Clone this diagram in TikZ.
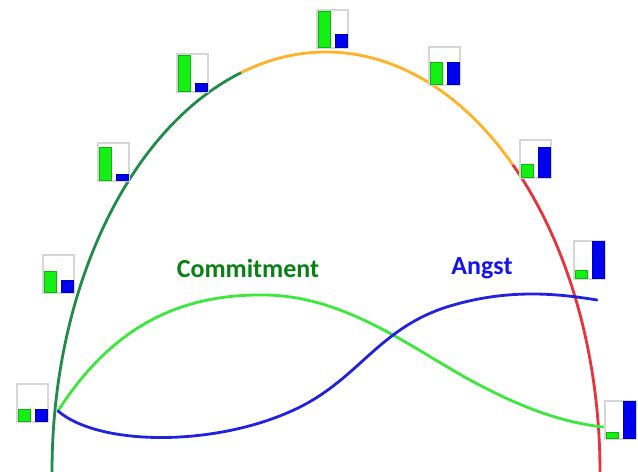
\documentclass[tikz,border=0pt]{standalone}
\usepackage{fontspec}
\setmainfont{Carlito}
\definecolor{arcgreen}{RGB}{32,140,76}
\definecolor{arcorange}{RGB}{255,178,36}
\definecolor{arcred}{RGB}{232,50,60}
\definecolor{commitgreen}{RGB}{60,232,60}
\definecolor{angstblue}{RGB}{34,34,222}
\definecolor{labelgreen}{RGB}{10,128,20}
\definecolor{labelblue}{RGB}{20,20,240}
\definecolor{bargreen}{RGB}{20,240,20}
\definecolor{barblue}{RGB}{0,0,240}
\tikzset{
  phase/.style={line width=2pt},
  mood/.style={line width=2pt, line cap=round},
  iconbox/.style={draw=black!16, fill=white, line width=1pt},
  gbar/.style={fill=bargreen, draw=bargreen!75!black, line width=0.4pt},
  bbar/.style={fill=barblue, draw=barblue!75!black, line width=0.4pt},
  moodlabel/.style={font=\bfseries\fontsize{18.5}{20}\selectfont}
}
\begin{document}
\begin{tikzpicture}[x=0.025cm,y=0.025cm]
  \useasboundingbox (0,0) rectangle (638,472);
  %% the arc, in three phases
  \draw[phase, arcgreen] (52,0) arc[start angle=180, end angle=108, x radius=274, y radius=420] coordinate (ph1);
  \draw[phase, arcorange] (ph1) arc[start angle=108, end angle=47, x radius=274, y radius=420] coordinate (ph2);
  \draw[phase, arcred] (ph2) arc[start angle=47, end angle=0, x radius=274, y radius=420];
  %% the two curves
  \coordinate (start) at (58,61);
  \draw[mood, commitgreen] (start) .. controls (115,150) and (185,178) .. (265,177)
    .. controls (345,176) and (410,125) .. (470,92)
    .. controls (520,65) and (560,50) .. (603,45);
  \draw[mood, angstblue] (start) .. controls (100,25) and (220,25) .. (300,65)
    .. controls (360,95) and (380,145) .. (450,166)
    .. controls (510,184) and (560,178) .. (597,172);
  %% labels
  \node[moodlabel, text=labelgreen] (commitlabel) at (248,204) {Commitment};
  \node[moodlabel, text=labelblue] (angstlabel) at (482,204) {Angst};
  %% small bar charts along the arc
  \foreach \x/\y/\g/\b in {17/50/12/12, 43/179/21/12, 98/291/33/6, 177/380/36/8,
      317/424/36/13, 429/387/22/22, 520/294/13/30, 574/193/8/37, 605/33/6/37} {
    \draw[iconbox] (\x,\y) rectangle +(31,38);
    \draw[gbar] (\x+1,\y+1) rectangle +(12,\g);
    \draw[bbar] (\x+18,\y+1) rectangle +(12,\b);
  }
\end{tikzpicture}
\end{document}
